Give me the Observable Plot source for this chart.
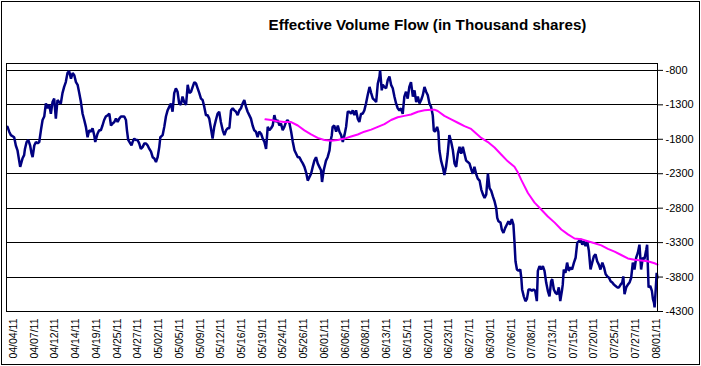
<!DOCTYPE html>
<html>
<head>
<meta charset="utf-8">
<script src="https://cdn.jsdelivr.net/npm/d3@7"></script>
<script src="https://cdn.jsdelivr.net/npm/@observablehq/plot@0.6"></script>
<style>
  html, body { margin: 0; padding: 0; background: #fff; }
  #wrap { position: relative; width: 701px; height: 366px; overflow: hidden; background: #fff;
          font-family: "Liberation Sans", Arial, sans-serif; }
  #wrap svg { position: absolute; left: 0; top: 0; }
  #border { position: absolute; left: 1px; top: 1px; width: 699px; height: 364px;
            border: 1px solid #000; box-sizing: border-box; pointer-events: none; }
  #title { position: absolute; left: 0; width: 855px; top: 17px; line-height: 15px;
           text-align: center; font-size: 15.2px; font-weight: bold; color: #000; white-space: nowrap; }
</style>
</head>
<body>
<div id="wrap">
  <div id="title">Effective Volume Flow (in Thousand shares)</div>
  <div id="border"></div>
</div>
<script>
// Category positions: each x-axis label spans 10 position units
const xLabels = ["04/04/11","04/07/11","04/12/11","04/14/11","04/19/11","04/25/11","04/27/11","05/02/11",
  "05/05/11","05/09/11","05/12/11","05/16/11","05/19/11","05/24/11","05/26/11","06/01/11",
  "06/06/11","06/08/11","06/13/11","06/15/11","06/20/11","06/23/11","06/27/11","06/30/11",
  "07/06/11","07/08/11","07/13/11","07/15/11","07/20/11","07/25/11","07/27/11","08/01/11"];
const xTicks = xLabels.map((_, i) => i * 10);
const yTicks = [-4300, -3800, -3300, -2800, -2300, -1800, -1300, -800];

// Effective Volume Flow (navy)
const flowT = [-2.9,-2.1,-1.3,0.3,1.1,1.9,2.7,3.2,4.3,5.1,5.5,6.3,7.1,8.0,8.7,9.2,10.0,10.8,11.6,12.4,
13.2,14.0,14.8,15.6,16.4,17.2,18.0,18.8,19.6,20.4,21.2,22.0,22.8,23.6,24.4,25.2,26.0,26.8,27.7,28.5,
29.3,30.1,30.9,31.7,32.5,33.3,34.1,34.9,35.7,36.5,37.3,38.1,38.9,39.4,40.5,41.3,42.1,42.9,43.7,44.5,
45.4,46.2,47.0,47.8,48.6,49.4,50.2,51.0,51.8,53.4,54.2,54.7,55.3,56.3,56.9,57.4,58.2,59.0,59.8,60.6,
61.4,62.3,63.1,63.9,64.7,65.5,66.3,67.1,67.9,68.7,69.5,70.3,70.8,71.9,72.7,73.5,74.3,75.1,75.9,76.7,
77.5,78.3,79.1,79.9,80.7,81.5,82.3,83.2,84.0,84.8,85.6,86.4,87.2,88.0,88.8,89.6,90.4,91.2,92.0,92.8,
93.6,94.4,95.2,96.0,96.8,97.6,98.4,99.2,100.0,100.9,101.7,102.5,103.3,104.1,104.9,105.7,106.5,107.3,108.1,108.9,
109.7,110.5,111.3,112.1,112.9,113.7,114.5,115.3,116.1,116.9,117.7,118.5,119.4,120.2,121.0,121.8,122.6,123.4,124.2,125.0,
125.8,126.6,127.4,128.2,129.0,129.8,130.6,131.4,132.2,133.1,133.9,134.7,135.5,136.3,137.1,137.9,138.7,139.5,140.3,141.1,
141.9,142.7,143.5,144.3,145.1,145.9,146.7,147.5,148.3,148.8,149.6,150.7,151.5,152.4,152.8,153.5,153.9,154.7,155.6,156.4,
157.2,158.0,158.8,159.6,160.4,161.2,162.0,162.8,163.6,164.4,165.2,166.0,166.8,167.6,168.4,169.2,170.0,170.8,171.7,172.5,
173.3,174.1,174.9,175.7,176.5,176.8,177.6,178.1,178.9,179.7,180.5,181.3,182.1,182.9,183.7,184.5,185.3,186.1,186.9,187.7,
188.5,189.3,190.1,190.9,191.7,192.6,193.4,194.2,195.0,195.8,196.6,197.4,198.2,199.0,199.8,200.6,201.4,202.2,202.7,203.3,
204.3,204.9,205.4,206.2,207.0,207.8,208.6,209.4,210.2,211.1,211.9,212.7,213.5,214.3,215.1,215.9,216.7,217.5,218.3,219.1,
219.9,220.7,221.5,222.3,223.1,223.9,224.8,225.6,226.4,227.2,228.0,228.8,229.6,230.4,231.2,232.0,232.8,233.3,233.9,234.9,
235.5,236.3,237.1,237.9,238.7,239.5,240.3,241.1,241.6,242.1,242.8,243.6,244.4,244.9,245.3,246.1,246.9,247.6,248.4,249.2,
250.0,250.8,251.6,252.4,252.9,253.7,254.5,255.3,256.1,256.9,257.7,258.5,259.3,259.8,260.6,261.4,262.2,263.0,263.7,264.5,
264.9,265.4,266.2,267.0,267.8,268.6,269.4,270.3,271.1,271.9,272.7,273.5,274.3,275.1,275.9,276.7,277.5,278.3,279.1,279.9,
280.7,281.5,282.3,283.1,284.0,284.8,285.6,286.4,287.2,288.0,288.8,289.6,290.4,291.2,292.0,292.8,293.6,294.1,294.7,295.5,
296.3,297.1,297.9,298.7,299.5,300.3,301.1,301.9,302.7,303.5,304.3,305.2,305.6,306.3,307.1,307.9,308.4,308.9,309.2,309.8,
310.2,310.6];
const flowV = [-1620,-1690,-1740,-1770,-1890,-1960,-2110,-2200,-2080,-2030,-1940,-1840,-1810,-1890,-2010,-2060,-1890,-1840,-1860,-1840,
-1670,-1520,-1470,-1280,-1350,-1300,-1430,-1260,-1210,-1500,-1230,-1260,-1280,-1130,-1040,-970,-840,-810,-920,-840,
-870,-970,-1010,-1130,-1260,-1430,-1520,-1620,-1770,-1670,-1690,-1640,-1740,-1840,-1720,-1670,-1670,-1600,-1520,-1470,
-1450,-1430,-1600,-1570,-1550,-1500,-1550,-1500,-1470,-1470,-1520,-1670,-1810,-1860,-1890,-1840,-1790,-1810,-1810,-1860,
-1940,-1910,-1860,-1860,-1890,-1940,-1980,-2060,-2080,-2130,-2060,-1910,-1770,-1740,-1620,-1470,-1380,-1330,-1280,-1400,
-1130,-1060,-1110,-1280,-1300,-1180,-1260,-1300,-1010,-1130,-1110,-1040,-970,-990,-1060,-1130,-1210,-1230,-1330,-1450,
-1450,-1500,-1640,-1790,-1620,-1520,-1430,-1400,-1550,-1670,-1740,-1670,-1640,-1640,-1380,-1350,-1380,-1400,-1450,-1380,
-1350,-1280,-1230,-1330,-1400,-1450,-1500,-1600,-1670,-1690,-1770,-1690,-1720,-1790,-1840,-1940,-1620,-1670,-1640,-1600,
-1450,-1550,-1520,-1600,-1570,-1670,-1620,-1550,-1520,-1570,-1690,-1840,-1960,-2010,-2060,-2060,-2110,-2150,-2200,-2280,
-2400,-2350,-2300,-2200,-2110,-2060,-2150,-2200,-2250,-2420,-2250,-2110,-2060,-1960,-1840,-1740,-1620,-1600,-1690,-1600,
-1690,-1740,-1840,-1740,-1620,-1400,-1400,-1430,-1380,-1450,-1380,-1500,-1550,-1430,-1430,-1380,-1280,-1160,-1040,-1130,
-1210,-1230,-1260,-990,-890,-800,-1090,-1010,-1040,-1060,-940,-890,-1010,-1060,-1180,-1280,-1350,-1380,-1350,-1430,
-1180,-1110,-1210,-1040,-970,-1180,-1090,-1260,-1180,-1280,-1230,-1160,-1040,-1110,-1160,-1280,-1330,-1450,-1670,-1690,
-1620,-1690,-1960,-2110,-2200,-2320,-2200,-2010,-1740,-1840,-1960,-2150,-2200,-2010,-1910,-2010,-1910,-2010,-2110,-2130,
-2150,-2230,-2300,-2200,-2300,-2370,-2400,-2530,-2600,-2650,-2600,-2300,-2510,-2550,-2630,-2700,-2800,-2940,-2990,-3010,
-3110,-3160,-3090,-3040,-2990,-3040,-2960,-3040,-3280,-3570,-3690,-3710,-3690,-3810,-3980,-4080,-4150,-4120,-3980,-3980,
-4000,-3980,-4000,-4150,-3710,-3640,-3690,-3640,-3710,-3880,-4000,-4080,-3860,-3830,-3980,-4030,-4050,-3950,-4150,-4000,
-3910,-3690,-3740,-3590,-3710,-3660,-3690,-3590,-3520,-3300,-3280,-3250,-3330,-3280,-3350,-3280,-3420,-3690,-3590,-3500,
-3470,-3570,-3620,-3690,-3590,-3660,-3760,-3790,-3810,-3860,-3880,-3910,-3930,-3950,-3950,-3910,-3880,-3790,-4050,-3950,
-3910,-3880,-3810,-3590,-3690,-3520,-3450,-3330,-3690,-3520,-3540,-3400,-3330,-3950,-3930,-4000,-4120,-4170,-4240,-3950,
-3740,-3810];

// Moving average (magenta)
const avgT = [121.5,124.2,127.4,130.6,133.9,137.1,140.3,143.5,146.7,149.9,153.2,156.4,159.6,162.8,166.0,169.2,172.5,175.7,178.9,182.1,
185.3,188.5,191.7,195.0,198.2,201.4,203.0,204.6,207.8,211.1,214.3,217.5,220.7,225.6,228.8,232.0,235.2,238.4,241.6,243.2,
244.9,248.1,251.3,254.5,257.7,261.0,264.2,267.4,270.6,273.8,277.0,280.3,283.5,286.7,289.9,293.1,296.3,299.5,302.7,305.9,
309.2,310.6];
const avgV = [-1510,-1520,-1540,-1550,-1550,-1600,-1670,-1730,-1780,-1810,-1820,-1810,-1790,-1760,-1730,-1690,-1660,-1620,-1580,-1520,
-1480,-1460,-1440,-1400,-1380,-1370,-1370,-1390,-1460,-1510,-1560,-1610,-1650,-1780,-1840,-1920,-2020,-2120,-2200,-2280,
-2390,-2580,-2720,-2820,-2920,-3010,-3110,-3180,-3240,-3250,-3280,-3310,-3340,-3390,-3430,-3480,-3530,-3550,-3560,-3570,
-3600,-3620];

const flow = flowT.map((t, i) => ({t, v: flowV[i]}));
const avg = avgT.map((t, i) => ({t, v: avgV[i]}));

const chart = Plot.plot({
  width: 701,
  height: 366,
  marginLeft: 6,
  marginRight: 44,
  marginTop: 63,
  marginBottom: 55,
  x: {domain: [-3.4, 310.6]},
  y: {domain: [-4300, -700]},
  style: {fontFamily: "'Liberation Sans', Arial, sans-serif", fontSize: "11px", color: "#000", background: "transparent", overflow: "visible"},
  marks: [
    Plot.ruleY(yTicks, {stroke: "#000", strokeWidth: 1, shapeRendering: "crispEdges"}),
    Plot.line(flow, {x: "t", y: "v", stroke: "#000080", strokeWidth: 2.5, strokeLinejoin: "miter"}),
    Plot.line(avg, {x: "t", y: "v", stroke: "#ff00ff", strokeWidth: 2, curve: "linear"}),
    Plot.frame({stroke: "#000", strokeWidth: 1, shapeRendering: "crispEdges"}),
    Plot.axisY({anchor: "right", ticks: yTicks, tickSize: 5, tickPadding: 3, tickFormat: d => String(d), label: null, fontSize: 11}),
    Plot.axisX({ticks: xTicks, tickFormat: d => xLabels[Math.round(d / 10)], tickRotate: -90, tickSize: 0, tickPadding: 7, label: null, fontSize: 10.5})
  ]
});
document.getElementById("wrap").prepend(chart);
</script>
</body>
</html>
